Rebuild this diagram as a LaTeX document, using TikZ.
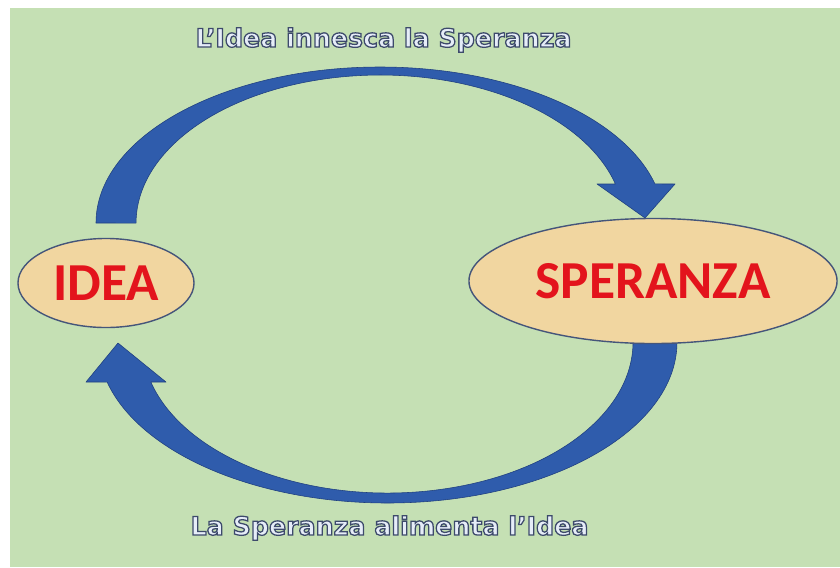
\documentclass[tikz,border=0pt]{standalone}
\usepackage{fontspec}
\usepackage{pgf,tikz}
\usepackage{tkz-euclide}
\usepackage{xcolor}
\usetikzlibrary{shapes.geometric}
\newfontfamily\wordfont{Carlito}
\newfontfamily\labelfont{DejaVu Sans}
\definecolor{bggreen}{HTML}{C5E0B4}
\definecolor{arrowblue}{HTML}{2F5CAC}
\definecolor{arrowedge}{HTML}{1F3F7F}
\definecolor{parchment}{HTML}{F1D6A0}
\definecolor{rimgray}{HTML}{45557A}
\definecolor{wordred}{HTML}{E3141C}
\definecolor{labelfill}{HTML}{E6EDF8}
\newcommand{\outlinetext}[1]{{\special{pdf:literal direct 2 Tr 0.9 w 0.24 0.29 0.42 RG}#1\special{pdf:literal direct 0 Tr}}}
\tikzset{
	word/.style = {ellipse, draw = rimgray, line width = 1pt, fill = parchment, inner sep = 0pt, text = wordred, font = \wordfont\bfseries\fontsize{38}{38}\selectfont},
	band/.style = {fill = arrowblue, draw = arrowedge, line width = 0.4pt, line join = round},
	caption/.style = {text = labelfill, font = \labelfont\bfseries\fontsize{18}{18}\selectfont, inner sep = 0pt, anchor = base}
}

\begin{document}
\begin{tikzpicture}[x = 0.025cm, y = -0.025cm]
	    \useasboundingbox (0,0) rectangle (840,567);
	    \fill[white] (0,0) rectangle (840,567);
	    \fill[bggreen] (10,8) rectangle (840,567);
	    \tkzDefPoint(96,223){t_1}
	    \tkzDefPoint(136,223){t_2}
	    \tkzDefPoint(675,184){h_1}
	    \tkzDefPoint(645,218){h_2}
	    \tkzDefPoint(597,184){h_3}
	    \tkzDefPoint(615.4,184){h_4}
	    \tkzDefPoint(677,342){t_3}
	    \tkzDefPoint(633,342){t_4}
	    \tkzDefPoint(86,382){h_5}
	    \tkzDefPoint(118,343){h_6}
	    \tkzDefPoint(166,382){h_7}
	    \tkzDefPoint(150.8,382){h_8}
	    \path[band] (t_1) arc[start angle = 180, end angle = 345.5, x radius = 284, y radius = 156] -- (h_1) -- (h_2) -- (h_3) -- (h_4) arc[start angle = 344.7, end angle = 180, x radius = 244, y radius = 148] -- cycle;
	    \path[band] (t_3) arc[start angle = 0, end angle = 165.6, x radius = 289.5, y radius = 161] -- (h_5) -- (h_6) -- (h_7) -- (h_8) arc[start angle = 164.64, end angle = 0, x radius = 245.5, y radius = 151] -- cycle;
	    \node[word, minimum width = 4.4cm, minimum height = 2.225cm] (idea) at (106,283) {IDEA};
	    \node[word, minimum width = 9.2cm, minimum height = 3.125cm] (speranza) at (653,281) {SPERANZA};
	    \node[caption] (innesca) at (383.5,47) {\outlinetext{L’Idea innesca la Speranza}};
	    \node[caption] (alimenta) at (389.5,535) {\outlinetext{La Speranza alimenta l’Idea}};
	\end{tikzpicture}
\end{document}
